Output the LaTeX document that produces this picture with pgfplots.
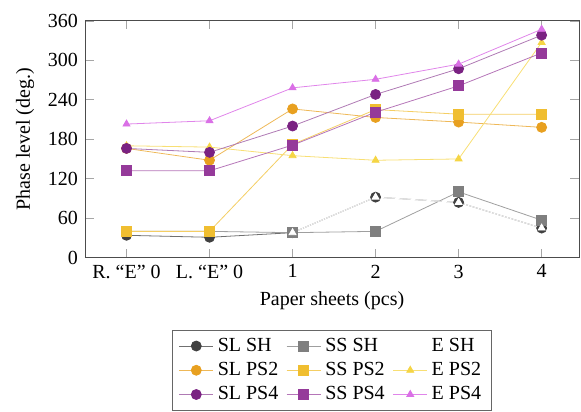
\documentclass[border=0pt]{standalone}
\usepackage{fontspec}
\setmainfont{Liberation Serif}
\usepackage{pgfplots}
\pgfplotsset{compat=1.18}
\usetikzlibrary{calc}

\definecolor{slsh}{HTML}{404040}
\definecolor{sssh}{HTML}{7F7F7F}
\definecolor{slps2}{HTML}{E8A020}
\definecolor{ssps2}{HTML}{F0BE30}
\definecolor{eps2}{HTML}{F5D545}
\definecolor{slps4}{HTML}{7A2282}
\definecolor{ssps4}{HTML}{953A9A}
\definecolor{eps4}{HTML}{DA70E6}

\begin{document}
\begin{tikzpicture}
\begin{axis}[
  name=ax,
  scale only axis,
  width=247pt, height=118.5pt,
  xmin=-0.5, xmax=5.45,
  ymin=0, ymax=360,
  xtick={0,1,2,3,4,5},
  xticklabels={R. “E" 0, L. “E" 0, 1, 2, 3, 4},
  ytick={0,60,120,180,240,300,360},
  xlabel={Paper sheets (pcs)},
  ylabel={Phase level (deg.)},
  axis line style={black!70},
  major tick style={black!35},
  /pgf/number format/assume math mode=true,
  legend columns=3,
  legend style={at={(0.5,-0.303)}, anchor=north, draw=black!60,
    /tikz/every even column/.append style={column sep=2pt}},
  legend cell align=left,
]
\addplot[color=slsh!75!white, mark=*, mark size=2.5pt,
  mark options={fill=slsh, draw=slsh}]
  coordinates {(0,34)(1,31)(2,38)(3,92)(4,84)(5,45)};
\addlegendentry{SL SH}
\addplot[color=sssh!75!white, mark=square*, mark size=2.5pt,
  mark options={fill=sssh, draw=sssh}]
  coordinates {(0,40)(1,40)(2,38)(3,40)(4,100)(5,57)};
\addlegendentry{SS SH}
\addplot[color=white, mark=triangle*, mark size=2pt,
  mark options={fill=white, draw=white}]
  coordinates {(2,38)(3,92)(4,84)(5,45)};
\addlegendentry{E SH}
\addplot[color=slps2!75!white, mark=*, mark size=2.5pt,
  mark options={fill=slps2, draw=slps2}]
  coordinates {(0,166)(1,148)(2,226)(3,213)(4,206)(5,198)};
\addlegendentry{SL PS2}
\addplot[color=ssps2!75!white, mark=square*, mark size=2.5pt,
  mark options={fill=ssps2, draw=ssps2}]
  coordinates {(0,40)(1,40)(2,172)(3,225)(4,218)(5,218)};
\addlegendentry{SS PS2}
\addplot[color=eps2!75!white, mark=triangle*, mark size=2pt,
  mark options={fill=eps2, draw=eps2}]
  coordinates {(0,170)(1,168)(2,155)(3,148)(4,150)(5,327)};
\addlegendentry{E PS2}
\addplot[color=slps4!60!white, mark=*, mark size=2.5pt,
  mark options={fill=slps4, draw=slps4}]
  coordinates {(0,166)(1,160)(2,200)(3,248)(4,287)(5,338)};
\addlegendentry{SL PS4}
\addplot[color=ssps4!70!white, mark=square*, mark size=2.5pt,
  mark options={fill=ssps4, draw=ssps4}]
  coordinates {(0,132)(1,132)(2,171)(3,221)(4,261)(5,311)};
\addlegendentry{SS PS4}
\addplot[color=eps4!85!white, mark=triangle*, mark size=2pt,
  mark options={fill=eps4, draw=eps4}]
  coordinates {(0,203)(1,208)(2,258)(3,271)(4,294)(5,347)};
\addlegendentry{E PS4}
\end{axis}
\pgfresetboundingbox
\path[use as bounding box] ($(ax.south west)+(-42.5pt,-77pt)$) rectangle ($(ax.north east)+(1pt,10.35pt)$);
\end{tikzpicture}
\end{document}
